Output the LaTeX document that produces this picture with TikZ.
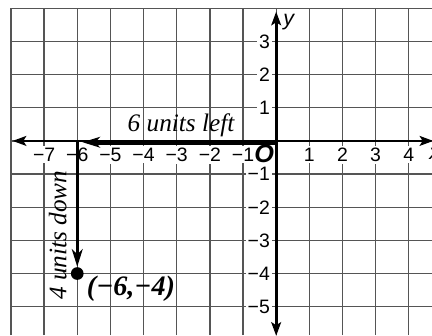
\documentclass[tikz,border=0pt]{standalone}
\usepackage{fontspec}
\setmainfont{Liberation Serif}
\setsansfont{Liberation Sans}
\usetikzlibrary{arrows.meta}
\definecolor{gridgray}{RGB}{85,85,85}

\begin{document}
\begin{tikzpicture}[x=0.6cm, y=0.6cm,
  gridline/.style={gridgray, line width=0.65pt},
  tick/.style={fill=white, inner sep=1pt, font=\sffamily\fontsize{10}{12}\selectfont},
  axis/.style={line width=1.4pt, {Stealth[length=7pt,width=5pt,inset=1.5pt]}-{Stealth[length=7pt,width=5pt,inset=1.5pt]}},
  move/.style={line width=1.6pt, -{Stealth[length=9pt,width=5.5pt,inset=2.5pt]}},
  dot/.style={circle, fill=black, inner sep=0pt, minimum size=0.23cm},
  note/.style={font=\itshape\fontsize{13}{15}\selectfont}
]
  \useasboundingbox (-8.33,-5.855) rectangle (4.70,4.25);
  % grid, cut off at the right and bottom
  \draw[gridline, step=1] (-8,-5.855) grid (4.70,4);

  % tick labels
  \foreach \x in {1,...,7} {
    \node[tick] (xm\x) at (-\x,-0.42) {−\x};
  }
  \foreach \x in {1,...,4} {
    \node[tick] (xp\x) at (\x,-0.42) {\x};
  }
  \foreach \y in {1,2,3} {
    \node[tick, anchor=east] (yp\y) at (-0.12,\y) {\y};
  }
  \foreach \y in {1,...,5} {
    \node[tick, anchor=east] (ym\y) at (-0.12,-\y) {−\y};
  }

  % axes
  \coordinate (O) at (0,0);
  \coordinate (xneg) at (-7.95,0);
  \coordinate (xpos) at (4.74,0);
  \coordinate (ytop) at (0,3.9);
  \coordinate (ybot) at (0,-5.88);
  \draw[axis] (xneg) -- (xpos);
  \draw[axis] (ybot) -- (ytop);
  \node[font=\sffamily\itshape\fontsize{11}{13}\selectfont] (ylab) at (0.38,3.59) {y};
  \node[font=\sffamily\itshape\fontsize{11}{13}\selectfont, anchor=west, inner sep=0pt] (xlab) at (4.61,-0.4) {x};
  \node[font=\sffamily\bfseries\itshape\fontsize{13}{15}\selectfont, inner sep=0pt] (orig) at (-0.36,-0.4) {O};

  % the two moves
  \coordinate (start) at (0,-0.04);
  \coordinate (lefttip) at (-5.84,-0.04);
  \coordinate (turn) at (-6,0);
  \node[dot] (P) at (-6,-4) {};
  \draw[move, line width=2.6pt] (start) -- (lefttip);
  \draw[move] (turn) -- (P.north);

  \node[note] (leftlab) at (-2.87,0.48) {6 units left};
  \node[note, rotate=90] (downlab) at (-6.59,-2.84) {4 units down};
  \node[font=\bfseries\itshape\fontsize{14.5}{16}\selectfont] (plab) at (-4.38,-4.47) {(−6,−4)};
\end{tikzpicture}
\end{document}
